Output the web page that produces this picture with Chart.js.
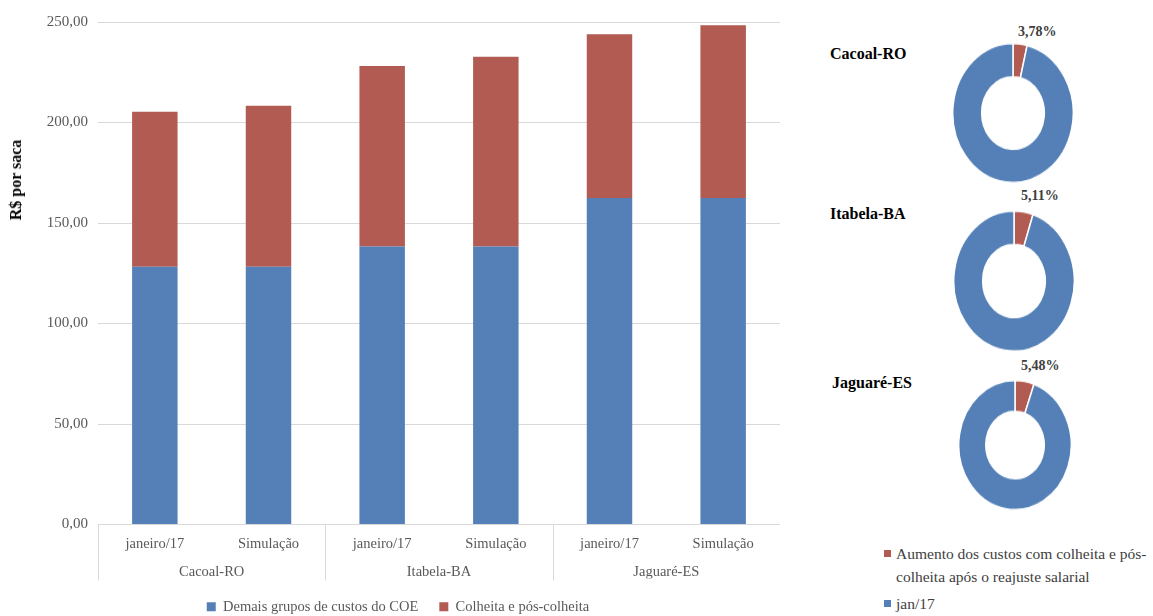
<!DOCTYPE html>
<html>
<head>
<meta charset="utf-8">
<script src="https://cdn.jsdelivr.net/npm/chart.js@4.4.1/dist/chart.umd.min.js"></script>
<style>
  html, body { margin:0; padding:0; background:#fff; width:1153px; height:616px; overflow:hidden; position:relative; font-family:"Liberation Serif","Times New Roman",serif; }
  .abs { position:absolute; }
  .ytitle { left:16px; top:180px; width:0; height:0; }
  .ytitle span { position:absolute; left:0; top:0; transform:translate(-50%,-50%) rotate(-90deg); font-family:"Liberation Serif","Times New Roman",serif; font-weight:bold; font-size:16px; color:#000; white-space:nowrap; }
  .dtitle { font-weight:bold; font-size:16px; color:#000; white-space:nowrap; }
  .pct { font-weight:bold; font-size:14px; color:#404040; white-space:nowrap; }
  .leg { font-size:15.5px; color:#404040; line-height:23px; }
  .sq { display:inline-block; width:7px; height:7px; margin-right:5px; vertical-align:middle; position:relative; top:-2px; }
</style>
</head>
<body>
<div class="abs" style="left:16px;top:0;width:764px;height:624px;"><canvas id="bar"></canvas></div>
<div class="abs ytitle"><span>R$ por saca</span></div>

<div class="abs dtitle" style="left:830px;top:45px;">Cacoal-RO</div>
<div class="abs dtitle" style="left:830px;top:205px;">Itabela-BA</div>
<div class="abs dtitle" style="left:832px;top:374px;">Jaguaré-ES</div>

<div class="abs pct" style="left:1018px;top:24px;">3,78%</div>
<div class="abs pct" style="left:1021px;top:188px;">5,11%</div>
<div class="abs pct" style="left:1021px;top:358px;">5,48%</div>

<div class="abs" style="left:952px;top:51.5px;width:122px;height:122px;transform:scaleY(1.156);transform-origin:50% 50%;"><canvas id="d0"></canvas></div>
<div class="abs" style="left:953px;top:220px;width:122px;height:122px;transform:scaleY(1.164);transform-origin:50% 50%;"><canvas id="d1"></canvas></div>
<div class="abs" style="left:958px;top:387.5px;width:114px;height:114px;transform:scaleY(1.149);transform-origin:50% 50%;"><canvas id="d2"></canvas></div>

<div class="abs leg" style="left:884px;top:542px;width:300px;">
  <div style="padding-left:12px;text-indent:-12px;"><span class="sq" id="lsq0"></span><span id="lt0"></span></div>
  <div style="padding-left:12px;text-indent:-12px;margin-top:4px;"><span class="sq" id="lsq1"></span><span id="lt1"></span></div>
</div>

<script>
// ---- data ----
const subCategories = ['janeiro/17','Simulação','janeiro/17','Simulação','janeiro/17','Simulação'];
const groupCategories = ['Cacoal-RO','Itabela-BA','Jaguaré-ES'];
const demaisCustos = [128.2, 128.2, 138.3, 138.3, 162.4, 162.4];
const colheitaPos = [77.2, 80.1, 89.8, 94.4, 81.5, 86.0];
const seriesNames = ['Demais grupos de custos do COE','Colheita e pós-colheita'];
const yTicks = [0, 50, 100, 150, 200, 250];

const donutLabels = ['Aumento dos custos com colheita e pós-colheita após o reajuste salarial','jan/17'];
const aumentoPct = [3.78, 5.11, 5.48];
const jan17Pct = [96.22, 94.89, 94.52];

// ---- styles ----
const BLUE = '#5480b7';
const RED = '#b15b52';
const GRID = '#d9d9d9';
const FONT = '"Liberation Serif","Times New Roman",serif';
const TXT = '#595959';

const dividerPlugin = {
  id: 'dividers',
  afterDraw(chart) {
    const x = chart.scales.x;
    const n = x.ticks.length;
    const sp = x.getPixelForTick(1) - x.getPixelForTick(0);
    const ctx = chart.ctx;
    ctx.save();
    ctx.strokeStyle = GRID;
    ctx.lineWidth = 1;
    const top = chart.chartArea.bottom;
    for (let i = 0; i <= n; i += 2) {
      const px = Math.round((i < n ? x.getPixelForTick(i) - sp / 2 : x.getPixelForTick(n - 1) + sp / 2)) + 0.5;
      ctx.beginPath();
      ctx.moveTo(px, top);
      ctx.lineTo(px, top + 56);
      ctx.stroke();
    }
    ctx.restore();
  }
};

new Chart(document.getElementById('bar'), {
  type: 'bar',
  data: {
    labels: subCategories,
    datasets: [
      { label: seriesNames[0], data: demaisCustos, backgroundColor: BLUE, xAxisID: 'x', barPercentage: 0.40, categoryPercentage: 1 },
      { label: seriesNames[1], data: colheitaPos, backgroundColor: RED, xAxisID: 'x', barPercentage: 0.40, categoryPercentage: 1 }
    ]
  },
  options: {
    responsive: true,
    maintainAspectRatio: false,
    animation: false,
    layout: { padding: { top: 22, right: 0, left: 0, bottom: 0 } },
    plugins: {
      tooltip: { enabled: false },
      legend: {
        position: 'bottom',
        labels: { boxWidth: 9, boxHeight: 9, padding: 21, color: TXT, font: { family: FONT, size: 14.5 } }
      }
    },
    scales: {
      x: {
        stacked: true,
        grid: { display: false, drawTicks: false },
        border: { display: false },
        ticks: { color: TXT, font: { family: FONT, size: 14.5 }, padding: 11, maxRotation: 0 },
        afterFit(s) { s.height = 31; }
      },
      x2: {
        type: 'category',
        labels: groupCategories,
        position: 'bottom',
        offset: true,
        grid: { display: false, drawTicks: false },
        border: { display: false },
        ticks: { color: TXT, font: { family: FONT, size: 14.5 }, padding: 8, maxRotation: 0 },
        afterFit(s) { s.height = 23; }
      },
      y: {
        stacked: true,
        min: 0,
        max: 250,
        afterBuildTicks(s) { s.ticks = yTicks.map(v => ({ value: v })); },
        grid: { color: GRID, drawTicks: false },
        border: { display: false },
        ticks: {
          color: TXT, font: { family: FONT, size: 15 }, padding: 10,
          callback: v => v.toFixed(2).replace('.', ',')
        },
        afterFit(s) { s.width = 82; }
      }
    }
  },
  plugins: [dividerPlugin]
});

for (let i = 0; i < 3; i++) {
  new Chart(document.getElementById('d' + i), {
    type: 'doughnut',
    data: {
      labels: donutLabels,
      datasets: [{ data: [aumentoPct[i], jan17Pct[i]], backgroundColor: [RED, BLUE], borderColor: '#fff', borderWidth: 1.5 }]
    },
    options: {
      responsive: true,
      maintainAspectRatio: false,
      animation: false,
      cutout: '52%',
      layout: { padding: 0 },
      plugins: { legend: { display: false }, tooltip: { enabled: false } }
    }
  });
}

document.getElementById('lsq0').style.background = RED;
document.getElementById('lsq1').style.background = BLUE;
document.getElementById('lt0').textContent = donutLabels[0];
document.getElementById('lt1').textContent = donutLabels[1];
</script>
</body>
</html>
